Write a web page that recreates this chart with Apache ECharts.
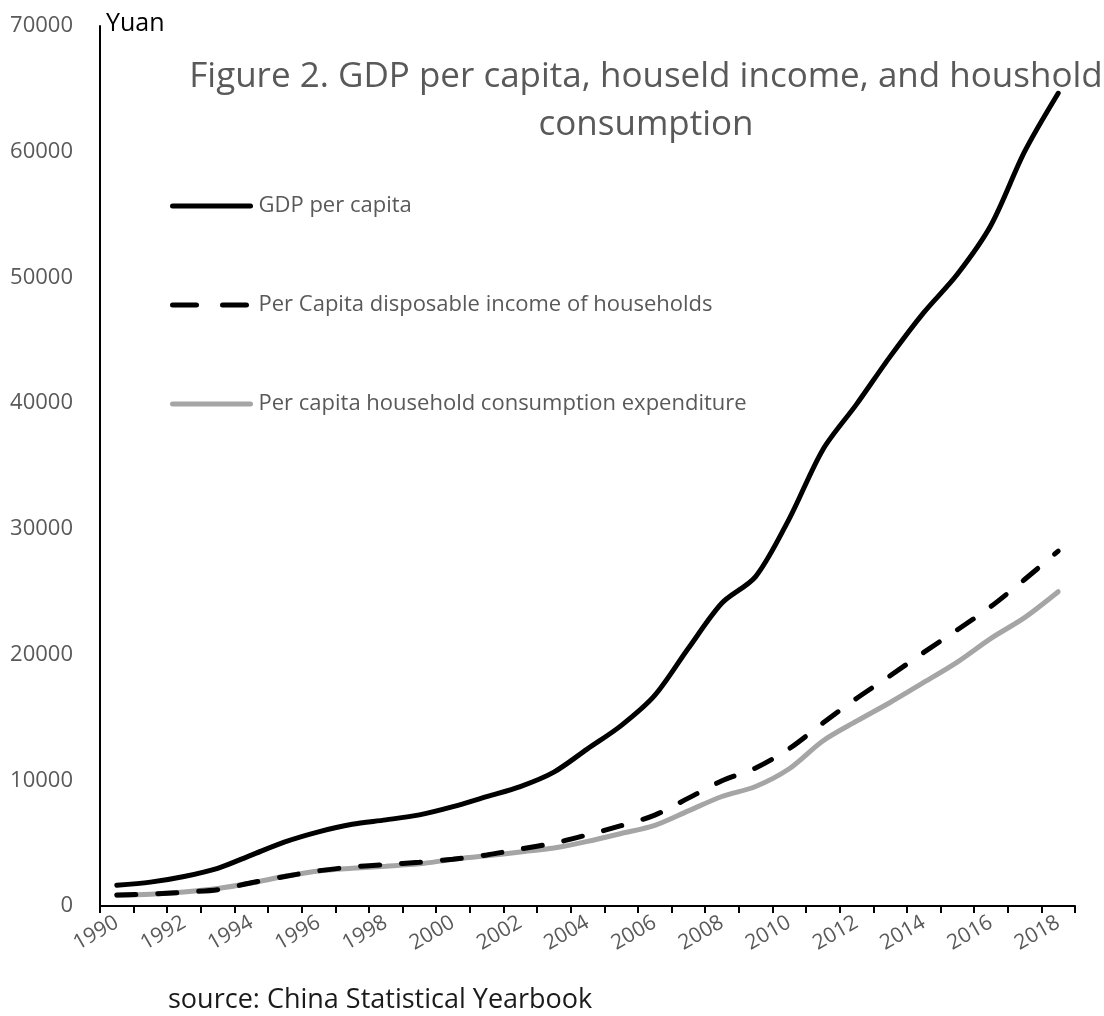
<!DOCTYPE html>
<html>
<head>
<meta charset="utf-8">
<script src="https://cdn.jsdelivr.net/npm/echarts@6/dist/echarts.min.js"></script>
<style>
html,body{margin:0;padding:0;background:#fff;}
#chart{width:1104px;height:1016px;}
</style>
</head>
<body>
<div id="chart"></div>
<script>
const years = ['1990','1991','1992','1993','1994','1995','1996','1997','1998','1999','2000','2001','2002','2003','2004','2005','2006','2007','2008','2009','2010','2011','2012','2013','2014','2015','2016','2017','2018'];
const gdpPerCapita = [1650,1900,2350,3000,4050,5100,5900,6500,6850,7250,7900,8700,9500,10650,12500,14350,16750,20500,24100,26200,30800,36300,39900,43700,47200,50250,54150,60000,64650];
const disposableIncome = [880,950,1100,1300,1850,2350,2800,3100,3300,3480,3720,4060,4530,5000,5660,6390,7230,8580,9960,10980,12520,14550,16510,18310,20170,21970,23820,25970,28230];
const consumption = [830,930,1120,1390,1830,2360,2790,3000,3160,3350,3720,3990,4300,4610,5140,5770,6420,7570,8710,9510,10920,13130,14700,16190,17780,19400,21290,22940,25000];
const yTicks = {min: 0, max: 70000, interval: 10000};
const seriesNames = ['GDP per capita', 'Per Capita disposable income of households', 'Per capita household consumption expenditure'];

const FONT = '"Open Sans", "Noto Sans", sans-serif';
const GRAY = '#595959';

const chart = echarts.init(document.getElementById('chart'), null, {renderer: 'canvas'});
chart.setOption({
  backgroundColor: '#ffffff',
  animation: false,
  title: {
    text: 'Figure 2. GDP per capita, houseld income, and houshold\nconsumption',
    left: 641,
    top: 48,
    textAlign: 'center',
    textStyle: {fontFamily: FONT, fontSize: 35, fontWeight: 'normal', color: GRAY, lineHeight: 48}
  },
  legend: {
    orient: 'vertical',
    left: 170,
    top: 193,
    padding: 0,
    itemWidth: 78,
    itemHeight: 24,
    itemGap: 73,
    itemStyle: {opacity: 0},
    lineStyle: {width: 5, cap: 'round'},
    data: [
      {name: seriesNames[0]},
      {name: seriesNames[1], lineStyle: {type: [24, 26], width: 5, cap: 'round'}},
      {name: seriesNames[2]}
    ],
    textStyle: {fontFamily: FONT, fontSize: 22, color: GRAY, lineHeight: 26, padding: [0, 0, 0, 3]}
  },
  grid: {left: 100, right: 29, top: 26, bottom: 110, containLabel: false, outerBoundsMode: 'none'},
  xAxis: {
    type: 'category',
    data: years,
    boundaryGap: true,
    axisLine: {show: true, lineStyle: {color: '#000', width: 2}},
    axisTick: {show: true, interval: 0, length: 7, lineStyle: {color: '#000', width: 2}},
    axisLabel: {interval: 1, rotate: 30, margin: 15, fontFamily: FONT, fontSize: 21, color: GRAY},
    splitLine: {show: false}
  },
  yAxis: {
    type: 'value',
    min: yTicks.min,
    max: yTicks.max,
    interval: yTicks.interval,
    name: 'Yuan',
    nameLocation: 'end',
    nameGap: 2,
    nameTextStyle: {fontFamily: FONT, fontSize: 25, color: '#000', align: 'left', verticalAlign: 'middle', padding: [0, 0, 4, 6]},
    axisLine: {show: true, lineStyle: {color: '#000', width: 2}},
    axisTick: {show: false},
    axisLabel: {margin: 27, fontFamily: FONT, fontSize: 22, color: GRAY, formatter: function (v) { return String(v); }},
    splitLine: {show: false}
  },
  series: [
    {name: seriesNames[0], type: 'line', data: gdpPerCapita, smooth: 0.3, symbol: 'none', z: 3,
     lineStyle: {color: '#000', width: 5, cap: 'round'}, itemStyle: {color: '#000'}},
    {name: seriesNames[1], type: 'line', data: disposableIncome, smooth: 0.3, symbol: 'none', z: 2,
     lineStyle: {color: '#000', width: 5, type: [19, 22], cap: 'round'}, itemStyle: {color: '#000'}},
    {name: seriesNames[2], type: 'line', data: consumption, smooth: 0.3, symbol: 'none', z: 1,
     lineStyle: {color: '#a5a5a5', width: 5, cap: 'round'}, itemStyle: {color: '#a5a5a5'}}
  ],
  graphic: [
    {type: 'text', left: 168, top: 987, style: {text: 'source: China Statistical Yearbook', fontFamily: FONT, fontSize: 27, fill: '#1a1a1a'}}
  ]
});
</script>
</body>
</html>
